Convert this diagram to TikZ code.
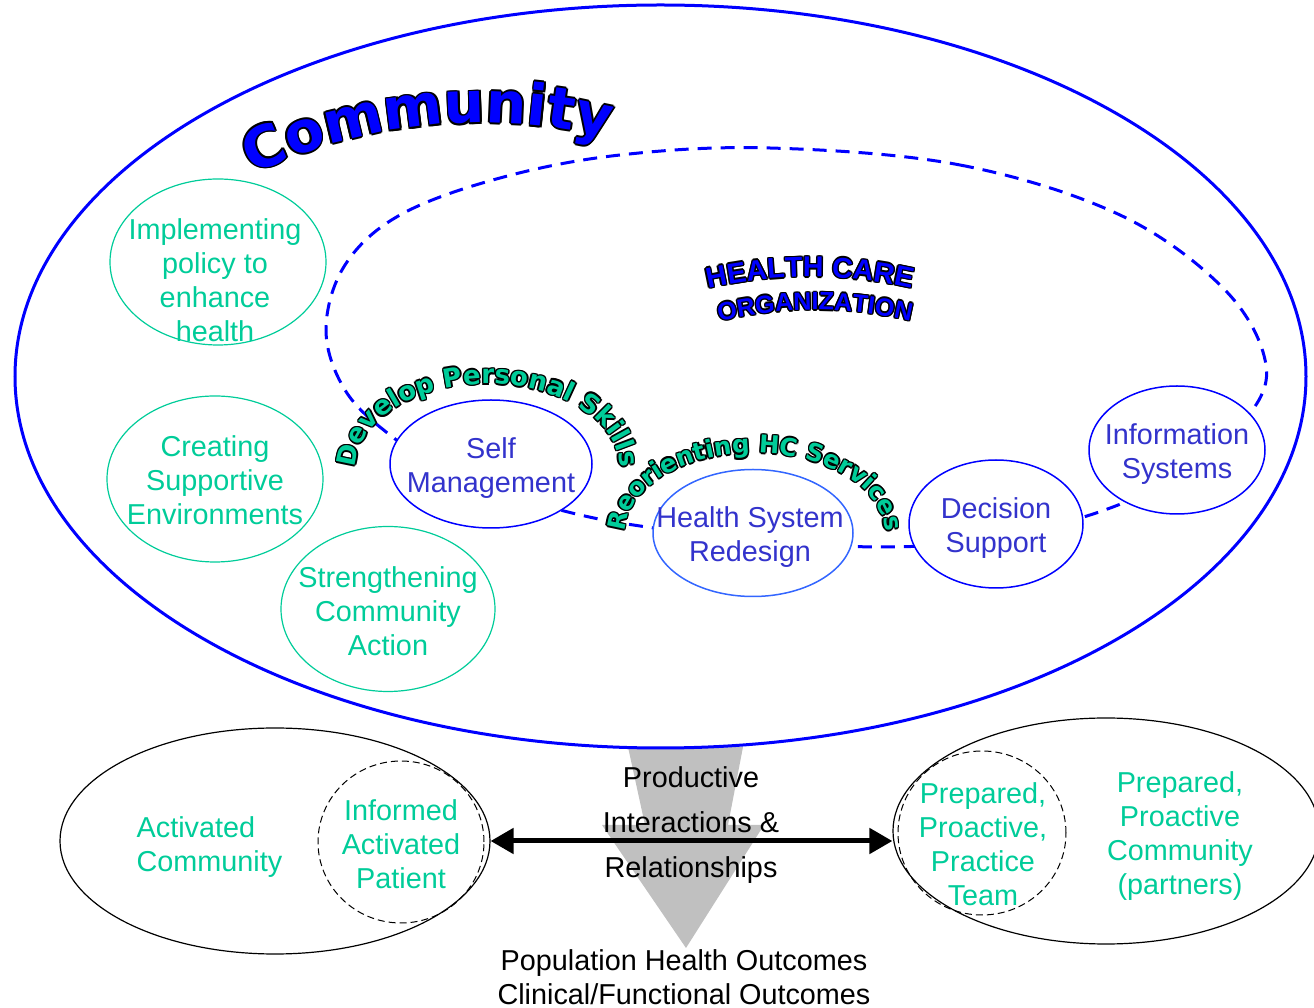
\documentclass[tikz,border=0pt]{standalone}
\usepackage{fontspec}
\setmainfont{Liberation Sans}
\newfontfamily\djvb{DejaVu Sans}
\usetikzlibrary{shapes.geometric,arrows.meta,decorations.text}
\definecolor{grn}{HTML}{00CC99}
\definecolor{bluetxt}{HTML}{3333CC}
\definecolor{hsrblue}{HTML}{3366FF}
\definecolor{arrowgray}{HTML}{C0C0C0}

\newcommand\fCom{\djvb\bfseries\fontsize{28.5}{30}\selectfont}
\newcommand\fHC{\bfseries\fontsize{14.3}{16}\selectfont}
\newcommand\fORG{\bfseries\fontsize{12.5}{14}\selectfont}
\newcommand\fDev{\djvb\bfseries\fontsize{13}{15}\selectfont}
\newcommand\fReo{\djvb\bfseries\fontsize{12.2}{15}\selectfont}

% #1 font, #2 fill colour, #3 text, #4 centre, #5 path, #6 outline offset
\newcommand\WordArt[6]{%
  \foreach \dx/\dy in {1/0,-1/0,0/1,0/-1,0.71/0.71,-0.71/0.71,0.71/-0.71,-0.71/-0.71}{%
    \path[shift={#4},shift={({\dx*#6},{\dy*#6})},decorate,decoration={text along path,text={|#1|#3},text align=center,text color=black}] #5;
  }%
  \path[shift={#4},decorate,decoration={text along path,text={|#1|#3},text align=center,text color=#2}] #5;
}

\tikzset{
  txt/.style={inner sep=0pt, align=center, font=\fontsize{14.4}{17}\selectfont},
  gtext/.style={txt, text=grn},
  btext/.style={txt, text=bluetxt},
  ktext/.style={txt, text=black},
  gell/.style={ellipse, draw=grn, line width=0.6pt, inner sep=0pt},
  bell/.style={ellipse, draw=blue, line width=0.75pt, fill=white, inner sep=0pt},
  kell/.style={ellipse, draw=black, line width=0.6pt, inner sep=0pt},
  dell/.style={ellipse, draw=black, line width=0.5pt, dash pattern=on 3.5pt off 2pt, inner sep=0pt},
}

\begin{document}
\begin{tikzpicture}[x=0.5pt,y=0.5pt]
\useasboundingbox (0,0) rectangle (1314,1008);

% gray arrow
\fill[arrowgray] (628,261) -- (743,261) -- (728,183) -- (764,183) -- (686,60) -- (602,183) -- (645,183) -- cycle;

% community ellipse
\node[ellipse, draw=blue, line width=1.5pt, inner sep=0pt, minimum width=645.5pt, minimum height=371.5pt] (community) at (660.5,631.5) {};

% health care organisation dashed boundary
\draw[blue, line width=1.5pt, dash pattern=on 7pt off 4.5pt] plot[smooth cycle, tension=0.6] coordinates {
 (770,860) (960,843) (1120,793) (1225,718) (1266,643) (1245,588) (1180,533)
 (1090,493) (980,468) (880,461) (760,468) (640,482) (560,498) (460,528)
 (390,573) (345,618) (326,678) (345,743) (400,793) (500,830) (620,853)};

% green ellipses
\node[gell, minimum width=108pt, minimum height=83pt] (impl) at (218,746) {};
\node[gell, minimum width=108pt, minimum height=83pt] (creat) at (215,529) {};
\node[gell, minimum width=107pt, minimum height=82.5pt] (stren) at (388,399) {};
\node[gtext] (implT) at (215,728) {Implementing\\policy to\\enhance\\health};
\node[gtext] (creatT) at (215,527.5) {Creating\\Supportive\\Environments};
\node[gtext] (strenT) at (388,396.5) {Strengthening\\Community\\Action};

% blue ellipses
\node[bell, minimum width=101pt, minimum height=64pt] (self) at (491,544) {};
\node[bell, draw=hsrblue, minimum width=100pt, minimum height=63.5pt] (hsr) at (753,475) {};
\node[bell, minimum width=87pt, minimum height=64pt] (dec) at (996,484) {};
\node[bell, minimum width=88pt, minimum height=64pt] (info) at (1177,558) {};
\node[btext] (selfT) at (491,540) {Self\\Management};
\node[btext] (hsrT) at (750,471) {Health System\\Redesign};
\node[btext] (decT) at (996,479.5) {Decision\\Support};
\node[btext] (infoT) at (1177,554) {Information\\Systems};

% word art
\WordArt{\fCom}{blue}{Community}{(481.6,350)}{(135.8:535) arc[start angle=135.8,end angle=55.8,radius=535]}{1.8}
\WordArt{\fHC}{blue}{HEALTH CARE}{(810,273)}{(115:458) arc[start angle=115,end angle=65,radius=458]}{1.4}
\WordArt{\fORG}{blue}{ORGANIZATION}{(815,282)}{(115:416) arc[start angle=115,end angle=65,radius=416]}{1.4}
\WordArt{\fDev}{grn}{Develop Personal Skills}{(488,540)}{(200:132 and 84) arc[start angle=200,end angle=-20,x radius=132,y radius=84]}{1.5}
\WordArt{\fReo}{grn}{Reorienting HC Services}{(755,475)}{(200:130 and 80) arc[start angle=200,end angle=-20,x radius=130,y radius=80]}{1.5}

% bottom part
\node[kell, minimum width=215pt, minimum height=113pt] (leftE) at (275,167) {};
\node[dell, minimum width=83pt, minimum height=81pt] (patient) at (401,166) {};
\node[kell, minimum width=213pt, minimum height=113pt] (rightE) at (1106,177) {};
\node[dell, minimum width=84pt, minimum height=82pt] (team) at (982,175) {};

\node[gtext, align=left] (actT) at (209.5,161) {Activated\\Community};
\node[gtext] (patT) at (401,163.5) {Informed\\Activated\\Patient};
\node[gtext] (teamT) at (983,163.5) {Prepared,\\Proactive,\\Practice\\Team};
\node[gtext] (partT) at (1180,172) {Prepared,\\Proactive\\Community\\(partners)};

\node[ktext, font=\fontsize{14.4}{22.5}\selectfont] (prodT) at (691,183) {Productive\\Interactions \&\\Relationships};
\node[ktext] (outT) at (684,31) {Population Health Outcomes\\Clinical/Functional Outcomes};

\draw[line width=2.5pt, {Triangle[length=11.5pt,width=12.5pt]}-{Triangle[length=11.5pt,width=12.5pt]}] (leftE.east) -- (leftE.east -| rightE.west);
\end{tikzpicture}
\end{document}
